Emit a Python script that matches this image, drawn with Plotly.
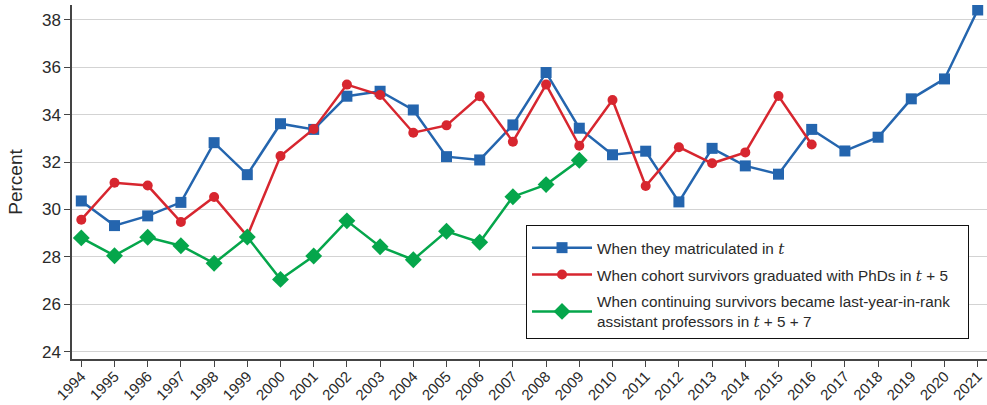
import plotly.graph_objects as go

years = list(range(1994, 2022))

matriculated = [30.36, 29.32, 29.73, 30.30, 32.82, 31.47, 33.62, 33.38, 34.78, 34.99,
                34.20, 32.23, 32.09, 33.57, 35.78, 33.43, 32.31, 32.46, 30.32, 32.58,
                31.84, 31.49, 33.38, 32.47, 33.05, 34.67, 35.51, 38.42]

graduated = [29.57, 31.13, 31.01, 29.47, 30.53, 28.88, 32.26, 33.40, 35.27, 34.83,
             33.24, 33.55, 34.78, 32.86, 35.27, 32.69, 34.62, 30.99, 32.63, 31.95,
             32.41, 34.79, 32.74]

assistant_prof = [28.80, 28.05, 28.83, 28.47, 27.73, 28.84, 27.05, 28.04, 29.52, 28.43,
                  27.88, 29.08, 28.62, 30.54, 31.05, 32.08]

y_ticks = [24, 26, 28, 30, 32, 34, 36, 38]

BLUE = "#2465ae"
RED = "#d7262f"
GREEN = "#05a64b"

T = '<span style="font-family:\'DejaVu Serif\', serif"><i>t</i></span>'
PAD = "&nbsp;" * 3

names = [
    f"When they matriculated in {T}",
    f"When cohort survivors graduated with PhDs in {T} + 5",
    f"When continuing survivors became last-year-in-rank{PAD}<br>assistant professors in {T} + 5 + 7",
]

fig = go.Figure()
fig.add_trace(go.Scatter(
    x=years[:len(matriculated)], y=matriculated, name=names[0],
    legendgroup="a", mode="lines+markers",
    line=dict(color=BLUE, width=2.5),
    marker=dict(symbol="square", size=11, color=BLUE),
))
fig.add_trace(go.Scatter(
    x=years[:len(graduated)], y=graduated, name=names[1],
    legendgroup="b", mode="lines+markers",
    line=dict(color=RED, width=2.5),
    marker=dict(symbol="circle", size=10, color=RED),
))
fig.add_trace(go.Scatter(
    x=years[:len(assistant_prof)], y=assistant_prof, name=names[2],
    legendgroup="c", mode="lines+markers",
    line=dict(color=GREEN, width=2.5),
    marker=dict(symbol="diamond", size=13, color=GREEN),
))

fig.update_layout(
    width=987, height=405,
    margin=dict(l=72, r=0, t=5, b=46, autoexpand=False),
    paper_bgcolor="white", plot_bgcolor="white",
    font=dict(family="Liberation Sans, Arial, sans-serif", color="#2a2a2a"),
    legend=dict(
        x=0.4962, y=0.3785, xanchor="left", yanchor="top",
        bordercolor="#111111", borderwidth=1, bgcolor="white",
        font=dict(size=15.3, color="#2a2a2a"),
        tracegroupgap=4, itemwidth=60,
        title=dict(text="&nbsp;", font=dict(size=4)),
    ),
)

fig.update_xaxes(
    range=[1993.72, 2021.28], automargin=False,
    tickmode="array", tickvals=years, ticktext=[str(y) for y in years],
    tickangle=-45, tickfont=dict(size=15, color="#2a2a2a"),
    ticklabelstandoff=-5,
    ticks="outside", ticklen=6, tickcolor="#444444",
    showline=True, linecolor="#444444", linewidth=1.5,
    showgrid=False, zeroline=False,
)
fig.update_yaxes(
    range=[23.69, 38.63], automargin=False,
    tickmode="array", tickvals=y_ticks,
    tickfont=dict(size=17, color="#2a2a2a"),
    ticks="outside", ticklen=6, tickcolor="#444444",
    showline=True, linecolor="#444444", linewidth=1.5,
    showgrid=True, gridcolor="#d3d3d3", gridwidth=1.2,
    zeroline=False,
    title=dict(text="Percent", font=dict(size=19, color="#2a2a2a"), standoff=14),
)

fig.write_html("out.html")
